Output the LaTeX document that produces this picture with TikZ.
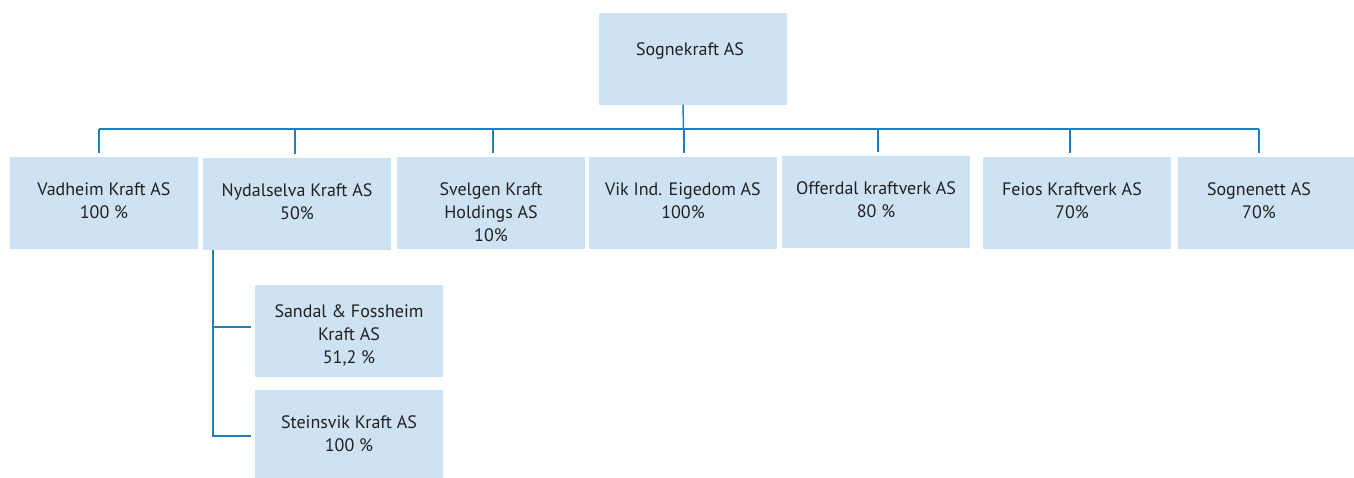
\documentclass[tikz,border=0pt]{standalone}
\usepackage{fontspec}
\setmainfont{PT Sans}
\definecolor{boxblue}{RGB}{205,227,243}
\definecolor{lineblue}{RGB}{36,124,192}
\definecolor{textgray}{RGB}{35,31,32}
% text sits at the top of each box
\newcommand{\firm}[2][38pt]{\parbox[c][92pt][t]{188pt}{\centering\rule{0pt}{#1}#2}}

\begin{document}
\begin{tikzpicture}[x=1pt, y=-1pt,
  firmbox/.style={rectangle, fill=boxblue, inner sep=0pt, text=textgray, font=\fontsize{18}{23}\selectfont},
  link/.style={draw=lineblue, line width=1.5pt}]
\useasboundingbox (0,0) rectangle (1354,477);

\node[firmbox] (sognekraft) at (693,58.5) {\firm[43pt]{\hspace*{-6pt}Sognekraft AS}};

\node[firmbox] (vadheim) at (104,203) {\firm{Vadheim Kraft AS\\100 \%}};
\node[firmbox] (nydal) at (297,204) {\firm{Nydalselva Kraft AS\\50\%}};
\node[firmbox] (svelgen) at (491,203) {\firm{Svelgen Kraft\\Holdings AS\\10\%}};
\node[firmbox] (vik) at (683,203) {\firm{Vik Ind. Eigedom AS\\100\%}};
\node[firmbox] (offerdal) at (876,202) {\firm{Offerdal kraftverk AS\\80 \%}};
\node[firmbox] (feios) at (1077,203) {\firm{\hspace*{-10pt}Feios Kraftverk AS\\\hspace*{-10pt}70\%}};
\node[firmbox] (sognenett) at (1272,203) {\firm{\hspace*{-26pt}Sognenett AS\\\hspace*{-26pt}70\%}};

\node[firmbox] (sandal) at (349,331) {\firm[32pt]{Sandal \& Fossheim\\Kraft AS\\51,2 \%}};
\node[firmbox] (steinsvik) at (349,436) {\firm{Steinsvik Kraft AS\\100 \%}};

% bus line
\draw[link] (sognekraft.south -| vik.north) -- ([xshift=1pt,yshift=4pt]vik.north);
\draw[link] ([xshift=-5pt,yshift=28pt]vadheim.north) -- ([xshift=-13pt,yshift=28pt]sognenett.north);
\foreach \n/\dx in {vadheim/-5, nydal/-2, svelgen/2, vik/1, offerdal/2, feios/-7, sognenett/-13}
  \draw[link] ([xshift=\dx pt, yshift=4pt]\n.north) -- ++(0,-24);

% owned by Nydalselva
\draw[link] ([xshift=-84pt]nydal.south) |- ([xshift=-4pt]steinsvik.west);
\draw[link] ([xshift=-84pt]nydal.south) |- ([xshift=-4pt,yshift=4pt]sandal.west);

\end{tikzpicture}
\end{document}
